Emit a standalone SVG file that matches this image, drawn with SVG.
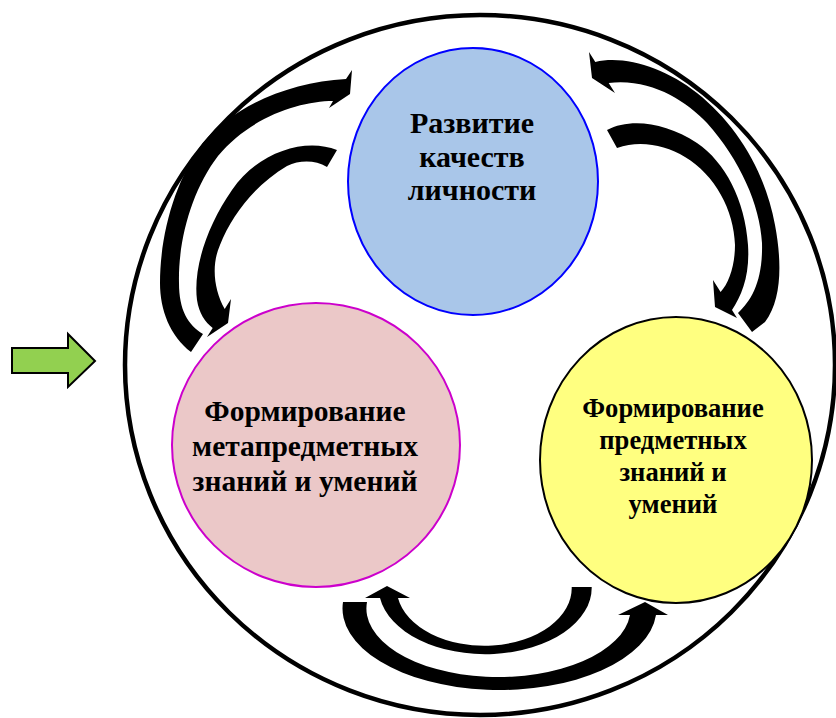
<svg xmlns="http://www.w3.org/2000/svg" width="836" height="718" viewBox="0 0 836 718">
<style>
.lbl{font-family:"Liberation Serif","Times New Roman",serif;font-weight:bold;fill:#000;text-anchor:middle}
.arr{fill:#000;stroke:none}
</style>
<rect width="836" height="718" fill="#fff"/>
<g id="frame">
<ellipse cx="480" cy="365" rx="355" ry="350" fill="none" stroke="#000" stroke-width="4.5"/>
</g>
<g id="node-razvitie">
<ellipse cx="473" cy="181.5" rx="125" ry="133.5" fill="#A9C6E9" stroke="#0000FF" stroke-width="2"/>
<text class="lbl" font-size="30"><tspan x="472" y="133">Развитие</tspan><tspan x="472" y="167">качеств</tspan><tspan x="472" y="200">личности</tspan></text>
</g>
<g id="node-meta">
<ellipse cx="316" cy="445" rx="144" ry="142" fill="#EBC8C8" stroke="#CC00CC" stroke-width="2"/>
<text class="lbl" font-size="29.5"><tspan x="305" y="421">Формирование</tspan><tspan x="305" y="456">метапредметных</tspan><tspan x="305" y="491">знаний и умений</tspan></text>
</g>
<g id="node-predmet">
<ellipse cx="676" cy="460" rx="136" ry="143" fill="#FFFF80" stroke="#000" stroke-width="2"/>
<text class="lbl" font-size="26.6"><tspan x="673" y="417">Формирование</tspan><tspan x="673" y="449">предметных</tspan><tspan x="673" y="481">знаний и</tspan><tspan x="673" y="513">умений</tspan></text>
</g>
<g id="input-arrow">
<polygon points="12,348 68,348 68,334 95,361 68,387 68,373 12,373" fill="#92D050" stroke="#000" stroke-width="2"/>
</g>
<g id="connectors">
<path class="arr" d="M191,352 C170,336 160,310 160,283 C160,235 175,180 203,143 C235,105 290,82 346,79 L352,70 L350,94 L329,108 L333,101 C300,101 250,117 218,156 C192,190 178,240 179,283 C179,310 188,325 203,334 Z"/>
<path class="arr" d="M337,150 C305,137 258,152 232,190 C207,226 193,268 197,300 C199,313 205,322 212.7,328 L207,337 L228,323 L231,299 L224.7,309 C214,290 211,265 220,245 C232,215 255,185 287,166 C300,160 315,160 327,167 Z"/>
<path class="arr" d="M595.3,62 C625,55 665,68 697,93 C735,123 765,170 775,225 C782,262 782,300 765,322 L752,332 L738,313 C752,300 763,280 762,243 C760,205 740,160 707,123 C685,100 650,78 608.7,83 L615,93 L592,78 L589,52 Z"/>
<path class="arr" d="M607,130 C630,118 665,122 697,143 C725,162 745,200 748,245 C750,275 742,295 732,310 L737,318 L715,307 L713,280 L720.6,292 C729,283 735,265 735,245 C734,210 715,175 685,157 C665,145 640,140 617,148 Z"/>
<path class="arr" d="M591.7,587 A106.5,66.5 0 0 1 380,598 L365,598 L387,586 L410,598 L398,598 A87.5,57.5 0 0 0 571.7,587 Z"/>
<path class="arr" d="M343,602 A157,81.5 0 0 0 656,615 L668,615 L645,602 L618,615 L630,615 A132,68.5 0 0 1 367,602 Z"/>
</g>
</svg>
